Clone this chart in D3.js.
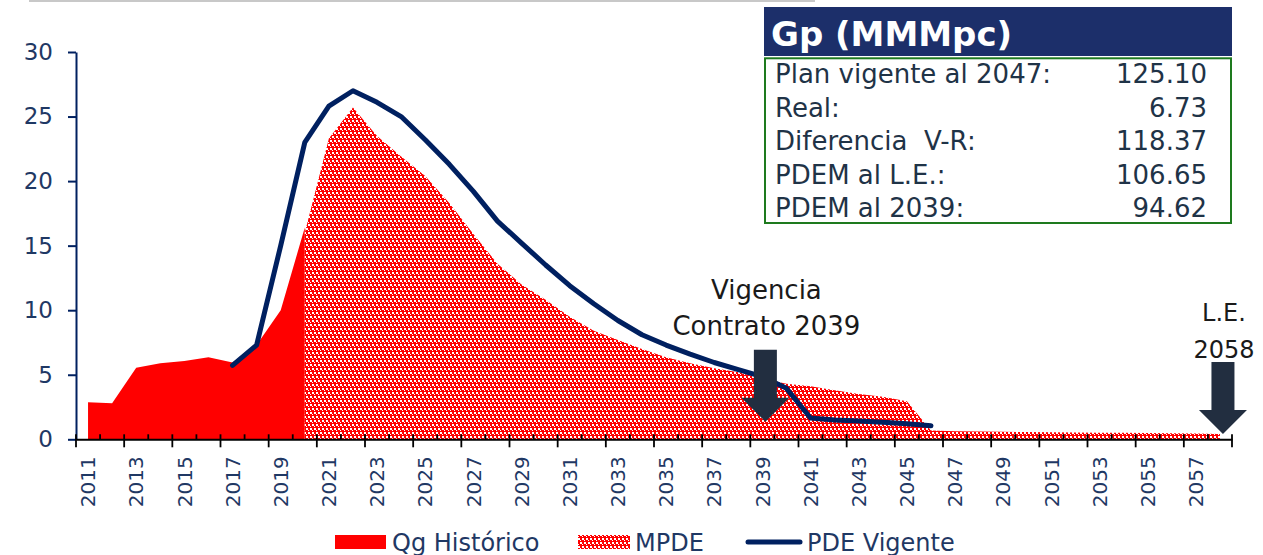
<!DOCTYPE html>
<html>
<head>
<meta charset="utf-8">
<script src="https://cdn.jsdelivr.net/npm/d3@7"></script>
<style>
  body { margin: 0; background: #fff; }
  svg { display: block; font-family: "DejaVu Sans", sans-serif; }
</style>
</head>
<body>
<svg id="chart" width="1263" height="555"></svg>
<script>
// categories
const years = d3.range(2011, 2059);

// Qg Historico (2011-2020)
const qgYears = d3.range(2011, 2021);
const qgHistorico = [2.87, 2.79, 5.55, 5.9, 6.07, 6.35, 5.95, 7.3, 10.0, 16.4];

// MPDE (2020-2058)
const mpdeYears = d3.range(2020, 2059);
const mpde = [16.0, 23.3, 25.7, 23.5, 21.9, 20.4, 18.3, 15.9, 13.6, 12.0,
  10.8, 9.5, 8.4, 7.7, 7.0, 6.35, 5.9, 5.5, 5.2, 4.7,
  4.3, 4.1, 3.8, 3.5, 3.3, 2.95, 0.68, 0.62, 0.6, 0.58,
  0.56, 0.55, 0.53, 0.51, 0.5, 0.48, 0.46, 0.44, 0.42];

// PDE Vigente (2017-2046)
const pdeYears = d3.range(2017, 2047);
const pdeVigente = [5.73, 7.3, 15.0, 23.0, 25.8, 27.0, 26.1, 25.0, 23.2, 21.3,
  19.2, 16.9, 15.2, 13.5, 11.9, 10.5, 9.2, 8.1, 7.3, 6.6,
  5.95, 5.4, 4.85, 3.95, 1.65, 1.5, 1.42, 1.32, 1.2, 1.05];

const yTicks = [0, 5, 10, 15, 20, 25, 30];
const xTickLabels = years.filter((d, i) => i % 2 === 0);

const tableTitle = "Gp (MMMpc)";
const tableLabels = ["Plan vigente al 2047:", "Real:", "Diferencia  V-R:", "PDEM al L.E.:", "PDEM al 2039:"];
const tableValues = ["125.10", "6.73", "118.37", "106.65", "94.62"];

const legendLabels = ["Qg Histórico", "MPDE", "PDE Vigente"];

const NAVY = "#002060";
const AXIS_TEXT = "#1f3864";
const RED = "#ff0000";

const svg = d3.select("#chart");

const x = d3.scaleBand().domain(years).range([76, 1232]);
const y = d3.scaleLinear().domain([0, 30]).range([439.3, 52]);
const cx = d => x(d) + x.bandwidth() / 2;

// checker pattern (red with small white squares)
const defs = svg.append("defs");
const pat = defs.append("pattern")
    .attr("id", "checker")
    .attr("patternUnits", "userSpaceOnUse")
    .attr("width", 4)
    .attr("height", 8);
pat.append("rect").attr("width", 4).attr("height", 8).attr("fill", RED);
pat.append("rect").attr("x", 0).attr("y", 0).attr("width", 2).attr("height", 2).attr("fill", "#fff");
pat.append("rect").attr("x", 2).attr("y", 4).attr("width", 2).attr("height", 2).attr("fill", "#fff");
pat.append("rect").attr("x", 2).attr("y", 2).attr("width", 1).attr("height", 1).attr("fill", "#fff");
pat.append("rect").attr("x", 0).attr("y", 6).attr("width", 1).attr("height", 1).attr("fill", "#fff");

// grey rule at the top
svg.append("rect")
    .attr("x", 29).attr("y", 0)
    .attr("width", 786).attr("height", 2)
    .attr("fill", "#c8c8c8");

// areas
const area = d3.area()
    .x(d => cx(d[0]))
    .y0(y(0))
    .y1(d => y(d[1]));

svg.append("path")
    .datum(d3.zip(qgYears, qgHistorico))
    .attr("d", area)
    .attr("fill", RED);

svg.append("path")
    .datum(d3.zip(mpdeYears, mpde))
    .attr("d", area)
    .attr("fill", "url(#checker)");

// y axis
const yAxis = svg.append("g")
    .attr("transform", "translate(76,0)")
    .call(d3.axisLeft(y).tickValues(yTicks).tickSize(8).tickSizeOuter(0).tickPadding(15));
yAxis.select(".domain").attr("stroke", NAVY).attr("stroke-width", 2);
yAxis.selectAll(".tick line").attr("stroke", NAVY).attr("stroke-width", 2);
yAxis.selectAll(".tick text")
    .attr("font-size", 23)
    .attr("fill", AXIS_TEXT)
    .attr("font-family", "DejaVu Sans");

// x axis
const xAxis = svg.append("g")
    .attr("transform", "translate(0," + y(0) + ")")
    .call(d3.axisBottom(x).tickValues(xTickLabels).tickSize(0).tickSizeOuter(0));
xAxis.select(".domain").attr("stroke", "#000").attr("stroke-width", 2);
xAxis.selectAll(".tick text")
    .attr("font-size", 20)
    .attr("fill", AXIS_TEXT)
    .attr("font-family", "DejaVu Sans")
    .attr("text-anchor", "end")
    .attr("transform", "rotate(-90)")
    .attr("x", -17)
    .attr("y", 0)
    .attr("dy", "0.36em");

// boundary ticks between categories
xAxis.selectAll(".bound")
    .data(d3.range(years.length + 1))
    .enter()
    .append("line")
    .attr("class", "bound")
    .attr("x1", i => x.range()[0] + i * x.step())
    .attr("x2", i => x.range()[0] + i * x.step())
    .attr("y1", -5)
    .attr("y2", i => i % 2 === 0 ? 8 : 0)
    .attr("stroke", "#000")
    .attr("stroke-width", 1.8);

// PDE Vigente line
svg.append("path")
    .datum(d3.zip(pdeYears, pdeVigente))
    .attr("d", d3.line().x(d => cx(d[0])).y(d => y(d[1])))
    .attr("fill", "none")
    .attr("stroke", NAVY)
    .attr("stroke-width", 5)
    .attr("stroke-linejoin", "round")
    .attr("stroke-linecap", "round");

// block arrows
function blockArrow(xc, yTip) {
    const shaftW = 11.5, headW = 24, headL = 24, total = 72;
    const top = yTip - total, neck = yTip - headL;
    const pts = [
        [xc - shaftW, top], [xc + shaftW, top], [xc + shaftW, neck],
        [xc + headW, neck], [xc, yTip], [xc - headW, neck], [xc - shaftW, neck]
    ];
    svg.append("path")
        .attr("d", "M" + pts.map(p => p.join(",")).join("L") + "Z")
        .attr("fill", "#222e40");
}
blockArrow(cx(2039) + 3, y(1.36));
blockArrow(cx(2058) + 3, y(0.41));

// annotation texts
function note(xc, lines, base, size) {
    lines.forEach((t, i) => {
        svg.append("text")
            .attr("x", xc)
            .attr("y", base + i * 36.5)
            .attr("text-anchor", "middle")
            .attr("font-size", size)
            .attr("fill", "#1a1a1a")
            .text(t);
    });
}
note(cx(2039) + 4, ["Vigencia", "Contrato 2039"], 298.5, 26);
note(cx(2058) + 4, ["L.E.", "2058"], 321, 24);

// summary table
svg.append("rect")
    .attr("x", 764).attr("y", 7)
    .attr("width", 468).attr("height", 49)
    .attr("fill", "#1c2f6a");
svg.append("text")
    .attr("x", 771).attr("y", 45.5)
    .attr("font-size", 34)
    .attr("font-weight", "bold")
    .attr("fill", "#fff")
    .text(tableTitle);

svg.append("rect")
    .attr("x", 765).attr("y", 58.3)
    .attr("width", 466).attr("height", 164.7)
    .attr("fill", "#fff")
    .attr("stroke", "#1e7a1e")
    .attr("stroke-width", 2);

tableLabels.forEach((t, i) => {
    svg.append("text")
        .attr("x", 775).attr("y", 83 + i * 33.6)
        .attr("font-size", 26)
        .attr("fill", "#1f3347")
        .style("white-space", "pre")
        .text(t);
    svg.append("text")
        .attr("x", 1207).attr("y", 83 + i * 33.6)
        .attr("text-anchor", "end")
        .attr("font-size", 26)
        .attr("fill", "#1f3347")
        .text(tableValues[i]);
});

// legend
const legend = svg.append("g").attr("transform", "translate(0,542)");
const legX = [335, 578, 746];
legend.append("rect").attr("x", legX[0]).attr("y", -7).attr("width", 51).attr("height", 14).attr("fill", RED);
legend.append("rect").attr("x", legX[1]).attr("y", -7).attr("width", 52).attr("height", 14).attr("fill", "url(#checker)");
legend.append("line")
    .attr("x1", legX[2] + 2).attr("x2", legX[2] + 54)
    .attr("y1", 0).attr("y2", 0)
    .attr("stroke", NAVY).attr("stroke-width", 5).attr("stroke-linecap", "round");
const legTextX = [392, 635, 807];
legendLabels.forEach((t, i) => {
    legend.append("text")
        .attr("x", legTextX[i]).attr("y", 8.5)
        .attr("font-size", 24)
        .attr("fill", AXIS_TEXT)
        .text(t);
});
</script>
</body>
</html>
